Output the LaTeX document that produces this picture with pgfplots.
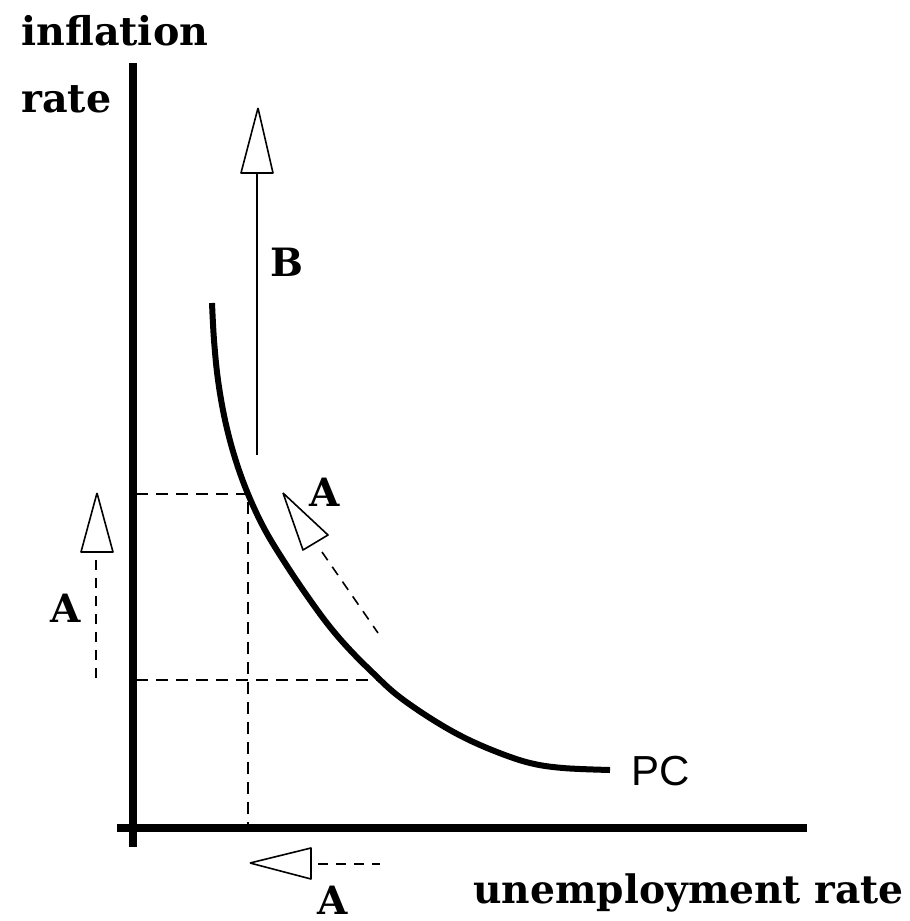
\documentclass[border=0pt]{standalone}
\usepackage{pgfplots}
\pgfplotsset{compat=1.18}
\usepackage{fontspec}
\newfontfamily\serifb{DejaVu Serif}[BoldFont={DejaVu Serif Bold}]
\newfontfamily\pcfont{Liberation Sans}
\begin{document}
\begin{tikzpicture}
\begin{axis}[
  hide axis, scale only axis,
  width=455pt, height=460.5pt,
  xmin=0, xmax=910, ymin=0, ymax=921,
  y dir=reverse, clip=false,
]
% axes
\addplot[line width=4pt] coordinates {(133,63) (133,847)};
\addplot[line width=4pt] coordinates {(117,828) (807,828)};
% Phillips curve
\addplot[line width=3pt, smooth, tension=0.6, line cap=butt] coordinates {
(212,303) (214,340) (218,380) (225,420) (235,458) (248,494) (265,530)
(287,566) (310,600) (330,627) (350,650) (373,673) (397,695) (430,718)
(463,737) (497,752) (530,763) (563,768) (610,770)};
% dashed guide lines
\addplot[line width=1pt, dash pattern=on 6pt off 4pt] coordinates {(136,494) (248,494)};
\addplot[line width=1pt, dash pattern=on 6pt off 4pt] coordinates {(136,680) (377,680)};
\addplot[line width=1pt, dash pattern=on 6pt off 4pt] coordinates {(248,502) (248,826)};
% B arrow
\addplot[line width=1pt] coordinates {(257,173) (257,455)};
\addplot[line width=0.8pt, fill=white, line join=round] coordinates {(258,108) (241,173) (273,173) (258,108)};
% left A arrow
\addplot[line width=0.8pt, dash pattern=on 5pt off 4pt] coordinates {(96,560) (96,682)};
\addplot[line width=0.8pt, fill=white, line join=round] coordinates {(97,493) (81,552) (113,552) (97,493)};
% diagonal A arrow
\addplot[line width=0.8pt, dash pattern=on 5pt off 4pt] coordinates {(322,552) (378,633)};
\addplot[line width=0.8pt, fill=white, line join=round] coordinates {(283,493) (303,550) (328,535) (283,493)};
% bottom A arrow
\addplot[line width=0.8pt, dash pattern=on 5pt off 4pt] coordinates {(318,864) (380,864)};
\addplot[line width=0.8pt, fill=white, line join=round] coordinates {(250,863) (311,848) (311,879) (250,863)};
% labels
\node[anchor=base west, inner sep=0pt, font=\serifb\bfseries\fontsize{19.8}{22}\selectfont] at (axis cs:21,45) {inflation};
\node[anchor=base west, inner sep=0pt, font=\serifb\bfseries\fontsize{19.8}{22}\selectfont] at (axis cs:21,112) {rate};
\node[anchor=base west, inner sep=0pt, font=\serifb\bfseries\fontsize{19.6}{22}\selectfont] at (axis cs:473,903) {unemployment rate};
\node[anchor=center, inner sep=0pt, font=\serifb\bfseries\fontsize{19.5}{22}\selectfont] at (axis cs:287,262) {B};
\node[anchor=center, inner sep=0pt, font=\serifb\bfseries\fontsize{19.5}{22}\selectfont] at (axis cs:66,608) {A};
\node[anchor=center, inner sep=0pt, font=\serifb\bfseries\fontsize{19.5}{22}\selectfont] at (axis cs:325,492) {A};
\node[anchor=center, inner sep=0pt, font=\serifb\bfseries\fontsize{19.5}{22}\selectfont] at (axis cs:333,900) {A};
\node[anchor=base west, inner sep=0pt, font=\pcfont\fontsize{21}{24}\selectfont] at (axis cs:631,785) {PC};
\end{axis}
\pgfresetboundingbox
\path (0,0) rectangle (455pt,460.5pt);
\end{tikzpicture}
\end{document}
